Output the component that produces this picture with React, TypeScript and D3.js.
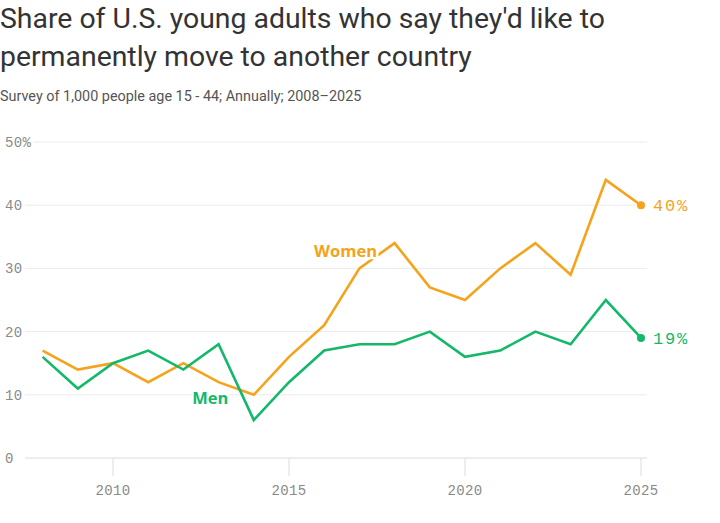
import { line, scaleLinear } from "d3";

const W = 720;
const H = 523;
const M = { top: 142, right: 79, bottom: 65, left: 42.6 };

const years = [2008, 2009, 2010, 2011, 2012, 2013, 2014, 2015, 2016, 2017, 2018, 2019, 2020, 2021, 2022, 2023, 2024, 2025];
const women = [17, 14, 15, 12, 15, 12, 10, 16, 21, 30, 34, 27, 25, 30, 34, 29, 44, 40];
const men = [16, 11, 15, 17, 14, 18, 6, 12, 17, 18, 18, 20, 16, 17, 20, 18, 25, 19];
const yTicks = [0, 10, 20, 30, 40, 50];
const xTicks = [2010, 2015, 2020, 2025];

const ORANGE = "#f5a31a";
const GREEN = "#14b86a";
const MONO = "'Liberation Mono', 'DejaVu Sans Mono', monospace";
const SANS = "Roboto, 'Noto Sans', sans-serif";
const LABEL = "'Open Sans', Roboto, sans-serif";

export default function App() {
  const x = scaleLinear().domain([2008, 2025]).range([M.left, W - M.right]);
  const y = scaleLinear().domain([0, 50]).range([H - M.bottom, M.top]);
  const mk = (vals: number[]) =>
    line<number>()
      .x((_, i) => x(years[i]))
      .y((v) => y(v))(vals) ?? "";
  const last = years.length - 1;

  return (
    <svg
      width={W}
      height={H}
      viewBox={`0 0 ${W} ${H}`}
      style={{ position: "absolute", left: 0, top: 0, background: "#fff" }}
    >
      <text x={0} y={28} fontFamily={SANS} fontSize={28.4} fill="#333">
        Share of U.S. young adults who say they'd like to
      </text>
      <text x={0} y={66} fontFamily={SANS} fontSize={28.4} fill="#333">
        permanently move to another country
      </text>
      <text x={0} y={101} fontFamily={SANS} fontSize={14.4} fill="#555">
        Survey of 1,000 people age 15 - 44; Annually; 2008–2025
      </text>

      {yTicks.map((t) => (
        <g key={`y${t}`}>
          <line
            x1={t === 50 ? 34 : 25}
            x2={W - M.right + 6}
            y1={y(t)}
            y2={y(t)}
            stroke={t === 0 ? "#dcdcdc" : "#ebebeb"}
          />
          <text x={5} y={y(t)} dy="0.35em" fontFamily={MONO} fontSize={14} letterSpacing={0.3} fill="#8a8a8a">
            {t === 50 ? "50%" : t}
          </text>
        </g>
      ))}

      {xTicks.map((t) => (
        <g key={`x${t}`}>
          <line x1={x(t)} x2={x(t)} y1={y(0)} y2={y(0) + 18} stroke="#dcdcdc" />
          <text x={x(t)} y={495} textAnchor="middle" fontFamily={MONO} fontSize={14} letterSpacing={0.4} fill="#8a8a8a">
            {t}
          </text>
        </g>
      ))}

      <path d={mk(women)} fill="none" stroke={ORANGE} strokeWidth={2.6} />
      <path d={mk(men)} fill="none" stroke={GREEN} strokeWidth={2.6} />

      <text
        x={x(2017.5)}
        y={y(31.8)}
        textAnchor="end"
        fontFamily={LABEL}
        fontWeight={700}
        fontSize={16.5}
        fill={ORANGE}
        stroke="#fff"
        strokeWidth={5}
        paintOrder="stroke"
        strokeLinejoin="round"
      >
        Women
      </text>
      <text
        x={x(2012.25)}
        y={y(8.6)}
        fontFamily={LABEL}
        fontWeight={700}
        fontSize={16.5}
        fill={GREEN}
        stroke="#fff"
        strokeWidth={5}
        paintOrder="stroke"
        strokeLinejoin="round"
      >
        Men
      </text>

      <circle cx={x(years[last])} cy={y(women[last])} r={4} fill={ORANGE} />
      <circle cx={x(years[last])} cy={y(men[last])} r={4} fill={GREEN} />
      <text x={x(years[last]) + 12} y={y(women[last])} dy="0.36em" fontFamily={MONO} fontSize={17} letterSpacing={1.8} fill={ORANGE}>
        {women[last]}%
      </text>
      <text x={x(years[last]) + 12} y={y(men[last])} dy="0.36em" fontFamily={MONO} fontSize={17} letterSpacing={1.8} fill={GREEN}>
        {men[last]}%
      </text>
    </svg>
  );
}
